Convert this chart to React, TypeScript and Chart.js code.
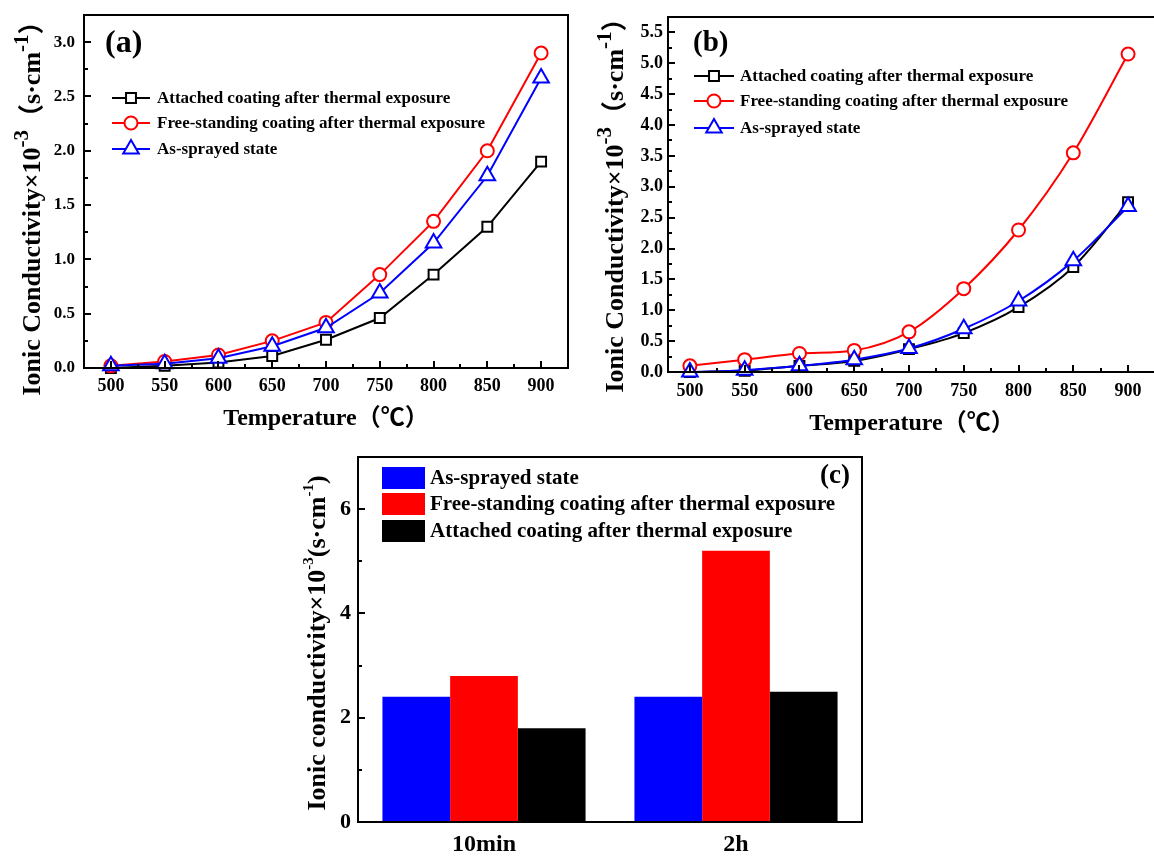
import React, { useEffect, useRef } from 'react';
import { Chart, registerables } from 'chart.js';

Chart.register(...registerables);

const FONT = "'Liberation Serif', 'Times New Roman', 'Noto Sans CJK SC', serif";

// ---------- data ----------
const temperatures = [500, 550, 600, 650, 700, 750, 800, 850, 900];

const aAttached = [0.0, 0.02, 0.05, 0.11, 0.26, 0.46, 0.86, 1.3, 1.9];
const aFree = [0.02, 0.06, 0.12, 0.25, 0.42, 0.86, 1.35, 2.0, 2.9];
const aSprayed = [0.02, 0.04, 0.09, 0.2, 0.37, 0.69, 1.15, 1.77, 2.67];

const bAttached = [0.0, 0.02, 0.1, 0.18, 0.37, 0.63, 1.05, 1.7, 2.75];
const bFree = [0.1, 0.2, 0.3, 0.35, 0.65, 1.35, 2.3, 3.55, 5.15];
const bSprayed = [0.0, 0.03, 0.1, 0.2, 0.38, 0.7, 1.15, 1.8, 2.68];

const cCategories = ['10min', '2h'];
const cSprayed = [2.4, 2.4];
const cFree = [2.8, 5.2];
const cAttached = [1.8, 2.5];

const labelAttached = 'Attached coating after thermal exposure';
const labelFree = 'Free-standing coating after thermal exposure';
const labelSprayed = 'As-sprayed state';

const xMajorTicks = [500, 550, 600, 650, 700, 750, 800, 850, 900];
const xMinorTicks = [525, 575, 625, 675, 725, 775, 825, 875];
const aYMajorTicks = [0, 0.5, 1.0, 1.5, 2.0, 2.5, 3.0];
const aYMinorTicks = [0.25, 0.75, 1.25, 1.75, 2.25, 2.75];
const bYMajorTicks = [0, 0.5, 1.0, 1.5, 2.0, 2.5, 3.0, 3.5, 4.0, 4.5, 5.0, 5.5];
const bYMinorTicks = [0.25, 0.75, 1.25, 1.75, 2.25, 2.75, 3.25, 3.75, 4.25, 4.75, 5.25];
const cYMajorTicks = [0, 2, 4, 6];
const cYMinorTicks = [1, 3, 5];

const xTitle = 'Temperature（℃）';

// ---------- helpers ----------
type Marker = 'rect' | 'circle' | 'triangle';

function drawMarker(ctx: CanvasRenderingContext2D, style: Marker, x: number, y: number, r: number, color: string) {
  ctx.save();
  ctx.fillStyle = '#fff';
  ctx.strokeStyle = color;
  ctx.lineWidth = 2;
  ctx.beginPath();
  if (style === 'rect') {
    const s = r * Math.SQRT1_2;
    ctx.rect(x - s, y - s, 2 * s, 2 * s);
  } else if (style === 'circle') {
    ctx.arc(x, y, r, 0, Math.PI * 2);
  } else {
    let rad = 0;
    ctx.moveTo(x + Math.sin(rad) * r, y - Math.cos(rad) * r);
    rad += (2 * Math.PI) / 3;
    ctx.lineTo(x + Math.sin(rad) * r, y - Math.cos(rad) * r);
    rad += (2 * Math.PI) / 3;
    ctx.lineTo(x + Math.sin(rad) * r, y - Math.cos(rad) * r);
    ctx.closePath();
  }
  ctx.fill();
  ctx.stroke();
  ctx.restore();
}

type TitlePart = { t: string; s: number; sup?: boolean };

type Deco = {
  xMajors?: number[];
  xMinors?: number[];
  yMajors: number[];
  yMinors: number[];
  lineLegend?: { x1: number; x2: number; tx: number; rows: number[]; size: number; items: { label: string; color: string; marker: Marker; r: number }[] };
  boxLegend?: { x: number; w: number; h: number; tx: number; rows: number[]; size: number; items: { label: string; color: string }[] };
  panel: { text: string; x: number; y: number; size: number; align: CanvasTextAlign };
  yTitle: { x: number; y: number; parts: TitlePart[] };
};

function decoPlugin(d: Deco) {
  return {
    id: 'deco',
    afterDraw(chart: any) {
      const ctx: CanvasRenderingContext2D = chart.ctx;
      const a = chart.chartArea;
      const xs = chart.scales.x;
      const ys = chart.scales.y;
      ctx.save();
      ctx.strokeStyle = '#000';
      ctx.lineWidth = 2;
      ctx.strokeRect(a.left, a.top, a.right - a.left, a.bottom - a.top);
      ctx.beginPath();
      d.yMajors.forEach((v) => {
        const p = Math.round(ys.getPixelForValue(v));
        ctx.moveTo(a.left, p);
        ctx.lineTo(a.left + 7, p);
      });
      d.yMinors.forEach((v) => {
        const p = Math.round(ys.getPixelForValue(v));
        ctx.moveTo(a.left, p);
        ctx.lineTo(a.left + 4, p);
      });
      (d.xMajors || []).forEach((v) => {
        const p = Math.round(xs.getPixelForValue(v));
        ctx.moveTo(p, a.bottom);
        ctx.lineTo(p, a.bottom - 7);
      });
      (d.xMinors || []).forEach((v) => {
        const p = Math.round(xs.getPixelForValue(v));
        ctx.moveTo(p, a.bottom);
        ctx.lineTo(p, a.bottom - 4);
      });
      ctx.stroke();

      ctx.fillStyle = '#000';
      if (d.lineLegend) {
        const L = d.lineLegend;
        L.items.forEach((it, i) => {
          const y = L.rows[i];
          ctx.strokeStyle = it.color;
          ctx.lineWidth = 2;
          ctx.beginPath();
          ctx.moveTo(L.x1, y);
          ctx.lineTo(L.x2, y);
          ctx.stroke();
          drawMarker(ctx, it.marker, (L.x1 + L.x2) / 2, y, it.r, it.color);
          ctx.fillStyle = '#000';
          ctx.font = `bold ${L.size}px ${FONT}`;
          ctx.textAlign = 'left';
          ctx.textBaseline = 'middle';
          ctx.fillText(it.label, L.tx, y + 1);
        });
      }
      if (d.boxLegend) {
        const B = d.boxLegend;
        B.items.forEach((it, i) => {
          const y = B.rows[i];
          ctx.fillStyle = it.color;
          ctx.fillRect(B.x, y - B.h / 2, B.w, B.h);
          ctx.fillStyle = '#000';
          ctx.font = `bold ${B.size}px ${FONT}`;
          ctx.textAlign = 'left';
          ctx.textBaseline = 'middle';
          ctx.fillText(it.label, B.tx, y + 1);
        });
      }
      ctx.fillStyle = '#000';
      ctx.font = `bold ${d.panel.size}px ${FONT}`;
      ctx.textAlign = d.panel.align;
      ctx.textBaseline = 'middle';
      ctx.fillText(d.panel.text, d.panel.x, d.panel.y);

      const T = d.yTitle;
      ctx.translate(T.x, T.y);
      ctx.rotate(-Math.PI / 2);
      ctx.textAlign = 'left';
      ctx.textBaseline = 'alphabetic';
      let total = 0;
      T.parts.forEach((p) => {
        ctx.font = `bold ${p.s}px ${FONT}`;
        total += ctx.measureText(p.t).width;
      });
      const main = T.parts[0].s;
      let x = -total / 2;
      T.parts.forEach((p) => {
        ctx.font = `bold ${p.s}px ${FONT}`;
        const dy = p.sup ? main * 0.35 - main * 0.45 : main * 0.35;
        ctx.fillText(p.t, x, dy);
        x += ctx.measureText(p.t).width;
      });
      ctx.restore();
    },
  };
}

function lineDs(label: string, vals: number[], color: string, marker: Marker, r: number, order: number, smooth: boolean) {
  return {
    label,
    data: temperatures.map((t, i) => ({ x: t, y: vals[i] })),
    borderColor: color,
    borderWidth: 2,
    pointStyle: marker,
    pointRadius: r,
    pointBorderWidth: 2,
    pointBackgroundColor: '#fff',
    pointBorderColor: color,
    tension: smooth ? 0.4 : 0,
    cubicInterpolationMode: smooth ? 'monotone' : 'default',
    order,
    clip: false,
  };
}

function tickFont(size: number) {
  return { family: FONT, size, weight: 'bold' as const };
}

function noPad(s: any) {
  s.paddingLeft = 0;
  s.paddingRight = 0;
  s.paddingTop = 0;
  s.paddingBottom = 0;
}

function makeLineConfig(opts: {
  attached: number[];
  free: number[];
  sprayed: number[];
  smooth: boolean;
  xMin: number;
  xMax: number;
  yMax: number;
  yMajors: number[];
  yMinors: number[];
  padding: { left: number; top: number; right: number; bottom: number };
  yWidth: number;
  xHeight: number;
  yTickSize: number;
  yTickPad: number;
  xTickPad: number;
  xTitlePad: number;
  deco: Deco;
}) {
  return {
    type: 'line',
    data: {
      datasets: [
        lineDs(labelSprayed, opts.sprayed, '#0000ff', 'triangle', 9, 0, opts.smooth),
        lineDs(labelFree, opts.free, '#ff0000', 'circle', 6.5, 1, opts.smooth),
        lineDs(labelAttached, opts.attached, '#000000', 'rect', 7, 2, opts.smooth),
      ],
    },
    options: {
      responsive: false,
      maintainAspectRatio: false,
      animation: false,
      layout: { padding: opts.padding, autoPadding: false },
      plugins: { legend: { display: false }, tooltip: { enabled: false } },
      scales: {
        x: {
          type: 'linear',
          min: opts.xMin,
          max: opts.xMax,
          afterBuildTicks: (s: any) => {
            s.ticks = xMajorTicks.map((value) => ({ value }));
          },
          afterFit: (s: any) => {
            s.height = opts.xHeight;
            noPad(s);
          },
          ticks: {
            autoSkip: false,
            maxRotation: 0,
            padding: opts.xTickPad,
            color: '#000',
            font: tickFont(18),
            callback: (v: any) => String(v),
          },
          grid: { display: false, drawTicks: false },
          border: { display: false },
          title: {
            display: true,
            text: xTitle,
            color: '#000',
            font: { family: FONT, size: 24, weight: 'bold' },
            padding: { top: 0, bottom: opts.xTitlePad },
          },
        },
        y: {
          type: 'linear',
          min: 0,
          max: opts.yMax,
          afterBuildTicks: (s: any) => {
            s.ticks = opts.yMajors.map((value) => ({ value }));
          },
          afterFit: (s: any) => {
            s.width = opts.yWidth;
            noPad(s);
          },
          ticks: {
            autoSkip: false,
            padding: opts.yTickPad,
            color: '#000',
            font: tickFont(opts.yTickSize),
            callback: (v: any) => Number(v).toFixed(1),
          },
          grid: { display: false, drawTicks: false },
          border: { display: false },
        },
      },
    },
    plugins: [decoPlugin(opts.deco)],
  };
}

const lineLegendItems = [
  { label: labelAttached, color: '#000000', marker: 'rect' as Marker, r: 7 },
  { label: labelFree, color: '#ff0000', marker: 'circle' as Marker, r: 6.5 },
  { label: labelSprayed, color: '#0000ff', marker: 'triangle' as Marker, r: 9 },
];

function configA() {
  return makeLineConfig({
    attached: aAttached,
    free: aFree,
    sprayed: aSprayed,
    smooth: false,
    xMin: 475,
    xMax: 925,
    yMax: 3.25,
    yMajors: aYMajorTicks,
    yMinors: aYMinorTicks,
    padding: { left: 0, top: 15, right: 12, bottom: 0 },
    yWidth: 84,
    xHeight: 72,
    yTickSize: 17,
    yTickPad: 9,
    xTickPad: 8,
    xTitlePad: 7,
    deco: {
      xMajors: xMajorTicks,
      xMinors: xMinorTicks,
      yMajors: aYMajorTicks,
      yMinors: aYMinorTicks,
      lineLegend: { x1: 112, x2: 150, tx: 157, rows: [98, 123, 149], size: 17, items: lineLegendItems },
      panel: { text: '(a)', x: 105, y: 44, size: 32, align: 'left' },
      yTitle: {
        x: 31,
        y: 202,
        parts: [
          { t: 'Ionic Conductivity×10', s: 26 },
          { t: '-3', s: 21, sup: true },
          { t: '（s·cm', s: 26 },
          { t: '-1', s: 21, sup: true },
          { t: '）', s: 26 },
        ],
      },
    },
  });
}

function configB() {
  return makeLineConfig({
    attached: bAttached,
    free: bFree,
    sprayed: bSprayed,
    smooth: true,
    xMin: 480,
    xMax: 925.5,
    yMax: 5.75,
    yMajors: bYMajorTicks,
    yMinors: bYMinorTicks,
    padding: { left: 0, top: 17, right: 4, bottom: 0 },
    yWidth: 88,
    xHeight: 68,
    yTickSize: 18,
    yTickPad: 5,
    xTickPad: 9,
    xTitlePad: 2,
    deco: {
      xMajors: xMajorTicks,
      xMinors: xMinorTicks,
      yMajors: bYMajorTicks,
      yMinors: bYMinorTicks,
      lineLegend: { x1: 114, x2: 154, tx: 160, rows: [76, 101, 128], size: 17, items: lineLegendItems },
      panel: { text: '(b)', x: 113, y: 44, size: 29, align: 'left' },
      yTitle: {
        x: 34,
        y: 199,
        parts: [
          { t: 'Ionic Conductivity×10', s: 26 },
          { t: '-3', s: 21, sup: true },
          { t: '（s·cm', s: 26 },
          { t: '-1', s: 21, sup: true },
          { t: '）', s: 26 },
        ],
      },
    },
  });
}

function configC() {
  const deco: Deco = {
    yMajors: cYMajorTicks,
    yMinors: cYMinorTicks,
    boxLegend: {
      x: 92,
      w: 43,
      h: 22,
      tx: 140,
      rows: [38, 64, 91],
      size: 21,
      items: [
        { label: labelSprayed, color: '#0000ff' },
        { label: labelFree, color: '#ff0000' },
        { label: labelAttached, color: '#000000' },
      ],
    },
    panel: { text: '(c)', x: 560, y: 36, size: 27, align: 'right' },
    yTitle: {
      x: 26,
      y: 203,
      parts: [
        { t: 'Ionic conductivity×10', s: 26 },
        { t: '-3', s: 15, sup: true },
        { t: '(s·cm', s: 26 },
        { t: '-1', s: 15, sup: true },
        { t: ')', s: 26 },
      ],
    },
  };
  const barDs = (label: string, data: number[], color: string) => ({
    label,
    data,
    backgroundColor: color,
    borderWidth: 0,
    categoryPercentage: 0.806,
    barPercentage: 1.0,
  });
  return {
    type: 'bar',
    data: {
      labels: cCategories,
      datasets: [barDs(labelSprayed, cSprayed, '#0000ff'), barDs(labelFree, cFree, '#ff0000'), barDs(labelAttached, cAttached, '#000000')],
    },
    options: {
      responsive: false,
      maintainAspectRatio: false,
      animation: false,
      layout: { padding: { left: 0, top: 17, right: 8, bottom: 0 }, autoPadding: false },
      plugins: { legend: { display: false }, tooltip: { enabled: false } },
      scales: {
        x: {
          type: 'category',
          afterFit: (s: any) => {
            s.height = 34;
            noPad(s);
          },
          ticks: { padding: 8, color: '#000', font: tickFont(24), maxRotation: 0 },
          grid: { display: false, drawTicks: false },
          border: { display: false },
        },
        y: {
          type: 'linear',
          min: 0,
          max: 7,
          afterBuildTicks: (s: any) => {
            s.ticks = cYMajorTicks.map((value) => ({ value }));
          },
          afterFit: (s: any) => {
            s.width = 68;
            noPad(s);
          },
          ticks: { padding: 7, color: '#000', font: tickFont(22), callback: (v: any) => String(v) },
          grid: { display: false, drawTicks: false },
          border: { display: false },
        },
      },
    },
    plugins: [decoPlugin(deco)],
  };
}

function ChartBox({ make, left, top, width, height }: { make: () => any; left: number; top: number; width: number; height: number }) {
  const ref = useRef<HTMLCanvasElement>(null);
  useEffect(() => {
    const chart = new Chart(ref.current as HTMLCanvasElement, make());
    return () => chart.destroy();
  }, []);
  return (
    <canvas
      ref={ref}
      width={width}
      height={height}
      style={{ position: 'absolute', left, top, width, height, display: 'block' }}
    />
  );
}

export default function App() {
  return (
    <div
      style={{
        position: 'fixed',
        left: 0,
        top: 0,
        width: 1154,
        height: 856,
        background: '#fff',
        overflow: 'hidden',
      }}
    >
      <ChartBox make={configA} left={0} top={0} width={580} height={440} />
      <ChartBox make={configB} left={580} top={0} width={580} height={440} />
      <ChartBox make={configC} left={290} top={440} width={580} height={416} />
    </div>
  );
}
